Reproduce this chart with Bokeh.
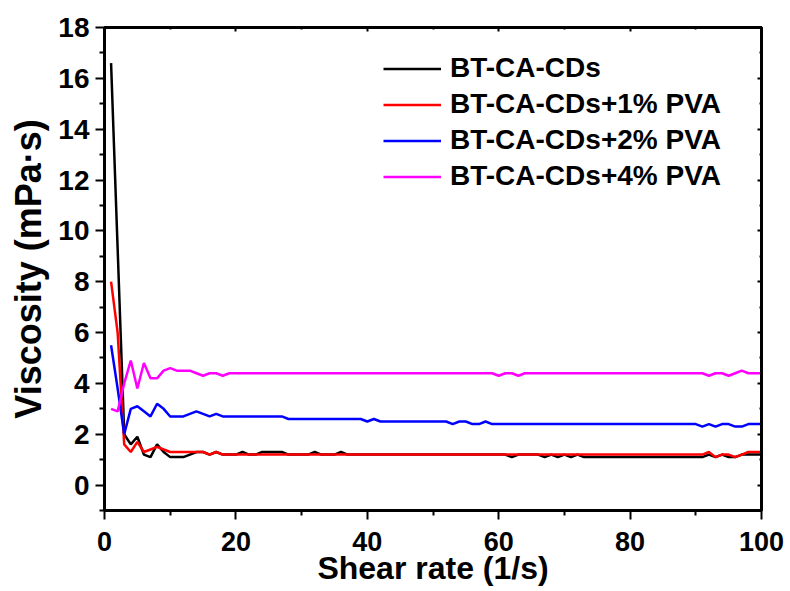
from bokeh.plotting import figure
from bokeh.models import (Range1d, FixedTicker, LinearAxis, Legend, LegendItem,
                          CustomJSTickFormatter)
from bokeh.embed import file_html
from bokeh.resources import INLINE

# Shear rate (1/s) and viscosity (mPa·s) of the four formulations
shear_rate = list(range(1, 101))

bt_ca_cds = [
    16.6, 9.3, 2.0, 1.6, 1.9, 1.2, 1.1, 1.6, 1.3, 1.1,
    1.1, 1.1, 1.2, 1.3, 1.3, 1.2, 1.3, 1.2, 1.2, 1.2,
    1.3, 1.2, 1.2, 1.3, 1.3, 1.3, 1.3, 1.2, 1.2, 1.2,
    1.2, 1.3, 1.2, 1.2, 1.2, 1.3, 1.2, 1.2, 1.2, 1.2,
    1.2, 1.2, 1.2, 1.2, 1.2, 1.2, 1.2, 1.2, 1.2, 1.2,
    1.2, 1.2, 1.2, 1.2, 1.2, 1.2, 1.2, 1.2, 1.2, 1.2,
    1.2, 1.1, 1.2, 1.2, 1.2, 1.2, 1.1, 1.2, 1.1, 1.2,
    1.1, 1.2, 1.1, 1.1, 1.1, 1.1, 1.1, 1.1, 1.1, 1.1,
    1.1, 1.1, 1.1, 1.1, 1.1, 1.1, 1.1, 1.1, 1.1, 1.1,
    1.1, 1.2, 1.1, 1.2, 1.1, 1.1, 1.2, 1.2, 1.2, 1.2,
]

pva_1 = [
    8.0, 6.0, 1.6, 1.3, 1.7, 1.3, 1.4, 1.5, 1.4, 1.3,
    1.3, 1.3, 1.3, 1.3, 1.3, 1.2, 1.3, 1.2, 1.2, 1.2,
    1.2, 1.2, 1.2, 1.2, 1.2, 1.2, 1.2, 1.2, 1.2, 1.2,
    1.2, 1.2, 1.2, 1.2, 1.2, 1.2, 1.2, 1.2, 1.2, 1.2,
    1.2, 1.2, 1.2, 1.2, 1.2, 1.2, 1.2, 1.2, 1.2, 1.2,
    1.2, 1.2, 1.2, 1.2, 1.2, 1.2, 1.2, 1.2, 1.2, 1.2,
    1.2, 1.2, 1.2, 1.2, 1.2, 1.2, 1.2, 1.2, 1.2, 1.2,
    1.2, 1.2, 1.2, 1.2, 1.2, 1.2, 1.2, 1.2, 1.2, 1.2,
    1.2, 1.2, 1.2, 1.2, 1.2, 1.2, 1.2, 1.2, 1.2, 1.2,
    1.2, 1.3, 1.1, 1.2, 1.2, 1.1, 1.2, 1.3, 1.3, 1.3,
]

pva_2 = [
    5.5, 3.8, 2.0, 3.0, 3.1, 2.9, 2.7, 3.2, 3.0, 2.7,
    2.7, 2.7, 2.8, 2.9, 2.8, 2.7, 2.8, 2.7, 2.7, 2.7,
    2.7, 2.7, 2.7, 2.7, 2.7, 2.7, 2.7, 2.6, 2.6, 2.6,
    2.6, 2.6, 2.6, 2.6, 2.6, 2.6, 2.6, 2.6, 2.6, 2.5,
    2.6, 2.5, 2.5, 2.5, 2.5, 2.5, 2.5, 2.5, 2.5, 2.5,
    2.5, 2.5, 2.4, 2.5, 2.5, 2.4, 2.4, 2.5, 2.4, 2.4,
    2.4, 2.4, 2.4, 2.4, 2.4, 2.4, 2.4, 2.4, 2.4, 2.4,
    2.4, 2.4, 2.4, 2.4, 2.4, 2.4, 2.4, 2.4, 2.4, 2.4,
    2.4, 2.4, 2.4, 2.4, 2.4, 2.4, 2.4, 2.4, 2.4, 2.4,
    2.3, 2.4, 2.3, 2.4, 2.4, 2.3, 2.3, 2.4, 2.4, 2.4,
]

pva_4 = [
    3.0, 2.9, 4.0, 4.9, 3.8, 4.8, 4.2, 4.2, 4.5, 4.6,
    4.5, 4.5, 4.5, 4.4, 4.3, 4.4, 4.4, 4.3, 4.4, 4.4,
    4.4, 4.4, 4.4, 4.4, 4.4, 4.4, 4.4, 4.4, 4.4, 4.4,
    4.4, 4.4, 4.4, 4.4, 4.4, 4.4, 4.4, 4.4, 4.4, 4.4,
    4.4, 4.4, 4.4, 4.4, 4.4, 4.4, 4.4, 4.4, 4.4, 4.4,
    4.4, 4.4, 4.4, 4.4, 4.4, 4.4, 4.4, 4.4, 4.4, 4.3,
    4.4, 4.4, 4.3, 4.4, 4.4, 4.4, 4.4, 4.4, 4.4, 4.4,
    4.4, 4.4, 4.4, 4.4, 4.4, 4.4, 4.4, 4.4, 4.4, 4.4,
    4.4, 4.4, 4.4, 4.4, 4.4, 4.4, 4.4, 4.4, 4.4, 4.4,
    4.4, 4.3, 4.4, 4.4, 4.3, 4.4, 4.5, 4.4, 4.4, 4.4,
]

series_labels = ["BT-CA-CDs", "BT-CA-CDs+1% PVA", "BT-CA-CDs+2% PVA", "BT-CA-CDs+4% PVA"]
series_colors = ["#000000", "#ff0000", "#0000ff", "#ff00ff"]

x_ticks = [0, 20, 40, 60, 80, 100]
x_minor = [10, 30, 50, 70, 90]
y_ticks = [0, 2, 4, 6, 8, 10, 12, 14, 16, 18]
y_minor = [-1, 1, 3, 5, 7, 9, 11, 13, 15, 17]

FONT = "Liberation Sans"

p = figure(width=790, height=591, x_range=Range1d(0, 100), y_range=Range1d(-1, 18),
           output_backend="svg", toolbar_location=None,
           min_border_left=104, min_border_right=29, min_border_top=27,
           min_border_bottom=81)
p.xgrid.visible = False
p.ygrid.visible = False
p.outline_line_color = "black"
p.outline_line_width = 3
p.background_fill_color = "white"
p.border_fill_color = "white"

renderers = []
for ys, color in zip([bt_ca_cds, pva_1, pva_2, pva_4], series_colors):
    r = p.line(shear_rate, ys, line_color=color, line_width=2.5)
    renderers.append(r)

# bottom / left axes with outward ticks
xa = p.xaxis[0]
xa.ticker = FixedTicker(ticks=x_ticks, minor_ticks=x_minor)
ya = p.yaxis[0]
ya.ticker = FixedTicker(ticks=y_ticks, minor_ticks=y_minor)
xa.axis_label = "Shear rate (1/s)"
ya.axis_label = "Viscosity (mPa·s)"
for ax in (xa, ya):
    ax.axis_line_width = 3
    ax.major_tick_line_width = 2
    ax.minor_tick_line_width = 2
    ax.major_tick_out = 9
    ax.major_tick_in = 0
    ax.minor_tick_out = 5
    ax.minor_tick_in = 0
    ax.major_label_text_font = FONT
    ax.major_label_text_font_style = "bold"
    ax.major_label_text_color = "black"
    ax.axis_label_text_font = FONT
    ax.axis_label_text_font_style = "bold"
    ax.axis_label_text_color = "black"
xa.major_label_text_font_size = "27px"
ya.major_label_text_font_size = "28px"
xa.axis_label_text_font_size = "32px"
ya.axis_label_text_font_size = "36px"
xa.major_label_standoff = 12
xa.axis_label_standoff = -4
ya.major_label_standoff = 6
ya.axis_label_standoff = 6

# mirrored top / right axes, small inward ticks, no labels
blank = CustomJSTickFormatter(code="return ''")
top = LinearAxis(ticker=FixedTicker(ticks=x_ticks, minor_ticks=x_minor), formatter=blank)
right = LinearAxis(ticker=FixedTicker(ticks=y_ticks, minor_ticks=y_minor), formatter=blank)
for ax in (top, right):
    ax.axis_line_width = 3
    ax.major_tick_line_width = 2
    ax.minor_tick_line_width = 2
    ax.major_tick_in = 4
    ax.major_tick_out = 0
    ax.minor_tick_in = 2
    ax.minor_tick_out = 0
    ax.major_label_standoff = 0
p.add_layout(top, "above")
p.add_layout(right, "right")

legend = Legend(
    items=[LegendItem(label=lab, renderers=[r]) for lab, r in zip(series_labels, renderers)],
    location=(279, 318),
    border_line_color=None,
    background_fill_alpha=0,
    label_text_font=FONT,
    label_text_font_style="bold",
    label_text_font_size="28px",
    label_text_color="black",
    glyph_width=58,
    glyph_height=31,
    label_height=31,
    spacing=4,
    padding=0,
    margin=0,
    label_standoff=9,
)
p.add_layout(legend)

open("out.html", "w").write(file_html(p, INLINE))
